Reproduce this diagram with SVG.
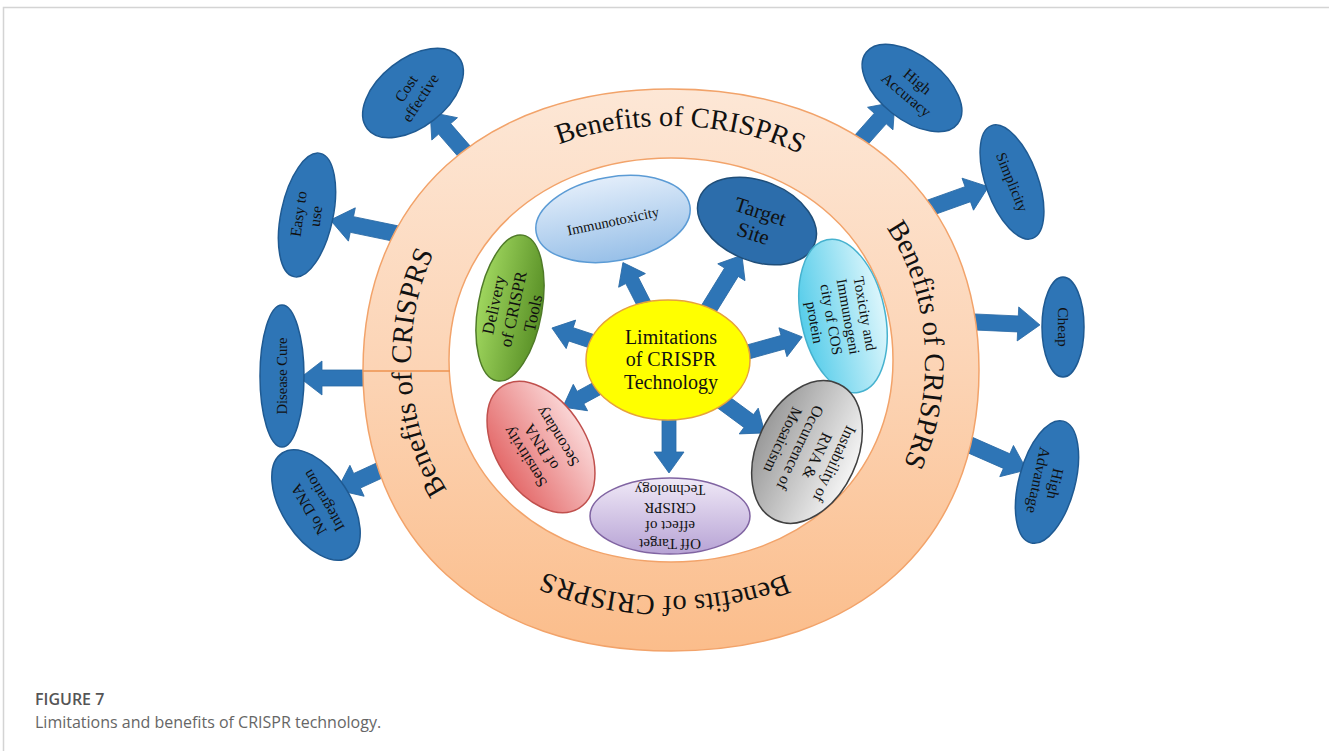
<svg xmlns="http://www.w3.org/2000/svg" width="1329" height="751" viewBox="0 0 1329 751">
<style>
.t{font-family:"Liberation Serif","Times New Roman",serif;fill:#111;text-anchor:middle}
.ring{font-family:"Liberation Serif","Times New Roman",serif;font-size:28.5px;fill:#111;text-anchor:middle}
.bn{fill:#2e75b6;stroke:#1f5a92;stroke-width:1.5}
.arr{fill:#2e75b6;stroke:#2a6aa5;stroke-width:0.8}
.cap{font-family:"Open Sans","Noto Sans","Liberation Sans",sans-serif;font-size:16px}
</style>
<defs>
<linearGradient id="gRing" x1="0" y1="0" x2="0" y2="1"><stop offset="0" stop-color="#fde7d6"/><stop offset="0.5" stop-color="#fcd4b5"/><stop offset="1" stop-color="#fbbd8b"/></linearGradient>
<linearGradient id="gImm" x1="0" y1="0" x2="0" y2="1"><stop offset="0" stop-color="#e2edfa"/><stop offset="1" stop-color="#98c0e8"/></linearGradient>
<linearGradient id="gTox" x1="0" y1="0" x2="0" y2="1"><stop offset="0" stop-color="#dcf6fc"/><stop offset="1" stop-color="#57cdea"/></linearGradient>
<linearGradient id="gDel" x1="0" y1="0" x2="0" y2="1"><stop offset="0" stop-color="#9fd65e"/><stop offset="1" stop-color="#5a9127"/></linearGradient>
<linearGradient id="gSen" x1="0" y1="0" x2="0" y2="1"><stop offset="0" stop-color="#fad6d6"/><stop offset="1" stop-color="#e46a6a"/></linearGradient>
<linearGradient id="gOff" x1="0" y1="0" x2="0" y2="1"><stop offset="0" stop-color="#f0e9f7"/><stop offset="1" stop-color="#b7a3d5"/></linearGradient>
<linearGradient id="gIns" x1="0" y1="0" x2="0" y2="1"><stop offset="0" stop-color="#f4f4f4"/><stop offset="1" stop-color="#9a9a9a"/></linearGradient>
<path id="pTop" d="M411,362 C411,220.4 513.8,126 668,126 C822.2,126 925,220.4 925,362"/>
<path id="pRight" d="M668,126 C822.2,126 925,220.4 925,362 C925,501.6 822.2,596 668,596"/>
<path id="pBottom" d="M925,360 C925,501.6 822.2,596 668,596 C513.8,596 411,501.6 411,360"/>
<path id="pLeft" d="M668,596 C513.8,596 411,501.6 411,360 C411,218.4 513.8,124 668,124"/>
</defs>
<rect width="1329" height="751" fill="#fff"/>
<path d="M3.5,751 V7.5 H1329" fill="none" stroke="#d4d4d4" stroke-width="1.5"/>

<g id="connectors">
<path class="arr" transform="translate(463,150) rotate(-131)" d="M-12,-8H28V-17L50,0L28,17V8H-12Z"/>
<path class="arr" transform="translate(393,233) rotate(-168.3)" d="M-12,-8H42V-17L64,0L42,17V8H-12Z"/>
<path class="arr" transform="translate(363,378) rotate(180)" d="M-12,-8H41V-17L63,0L41,17V8H-12Z"/>
<path class="arr" transform="translate(387,467) rotate(155.3)" d="M-12,-8H33V-17L55,0L33,17V8H-12Z"/>
<path class="arr" transform="translate(863,138) rotate(-48.4)" d="M-12,-8H26V-17L48,0L26,17V8H-12Z"/>
<path class="arr" transform="translate(932,207) rotate(-19.7)" d="M-12,-8H38V-17L60,0L38,17V8H-12Z"/>
<path class="arr" transform="translate(975,322) rotate(2.6)" d="M-12,-8H43V-17L65,0L43,17V8H-12Z"/>
<path class="arr" transform="translate(970,445) rotate(23.7)" d="M-12,-8H40V-17L62,0L40,17V8H-12Z"/>
<path class="arr" transform="translate(642,300) rotate(-117)" d="M-10,-7H22V-15L42,0L22,15V7H-10Z"/>
<path class="arr" transform="translate(713,302) rotate(-58.3)" d="M-10,-8H35V-16L55,0L35,16V8H-10Z"/>
<path class="arr" transform="translate(588,340) rotate(-161.6)" d="M-10,-7H18V-15L38,0L18,15V7H-10Z"/>
<path class="arr" transform="translate(755,350) rotate(-15.5)" d="M-10,-7H29V-15L49,0L29,15V7H-10Z"/>
<path class="arr" transform="translate(598,388) rotate(151.5)" d="M-10,-7H20V-15L40,0L20,15V7H-10Z"/>
<path class="arr" transform="translate(669,425) rotate(90)" d="M-10,-7H27V-15L48,0L27,15V7H-10Z"/>
<path class="arr" transform="translate(727,405) rotate(36.4)" d="M-10,-8H27V-16L47,0L27,16V8H-10Z"/>
</g>

<g id="ring">
<path fill="url(#gRing)" fill-rule="evenodd" stroke="#f2a36a" stroke-width="1.5" d="M363,370 C363,198.6 483,89 671,89 C859,89 979,198.6 979,370 C979,541.4 859,651 671,651 C483,651 363,541.4 363,370 Z M449,360 C449,242.8 542.2,158 671,158 C799.8,158 893,242.8 893,360 C893,477.2 799.8,562 671,562 C542.2,562 449,477.2 449,360 Z"/>
<line x1="363" y1="371" x2="450" y2="371" stroke="#ee9350" stroke-width="1.5"/>
<text class="ring"><textPath href="#pTop" startOffset="51.6%">Benefits of CRISPRS</textPath></text>
<text class="ring"><textPath href="#pRight" startOffset="47.8%">Benefits of CRISPRS</textPath></text>
<text class="ring"><textPath href="#pBottom" startOffset="50.4%">Benefits of CRISPRS</textPath></text>
<text class="ring"><textPath href="#pLeft" startOffset="48.3%">Benefits of CRISPRS</textPath></text>
</g>

<g id="n-cost">
<ellipse class="bn" transform="translate(413,93) rotate(-38)" rx="58" ry="34"/>
<g transform="translate(413,93) rotate(-57)"><text class="t" font-size="15.5"><tspan x="0" y="-3">Cost</tspan><tspan x="0" y="14">effective</tspan></text></g>
</g>
<g id="n-easy">
<ellipse class="bn" transform="translate(307,215) rotate(-78)" rx="63" ry="26"/>
<g transform="translate(307,215) rotate(-82)"><text class="t" font-size="15.5"><tspan x="0" y="-3.3">Easy to</tspan><tspan x="0" y="14">use</tspan></text></g>
</g>
<g id="n-disease">
<ellipse class="bn" transform="translate(282,376) rotate(-90)" rx="71" ry="22"/>
<g transform="translate(282,376) rotate(-90)"><text class="t" font-size="14.5" y="5">Disease Cure</text></g>
</g>
<g id="n-nodna">
<ellipse class="bn" transform="translate(316,505) rotate(57)" rx="62" ry="34"/>
<g transform="translate(316,505) rotate(-120)"><text class="t" font-size="15.5"><tspan x="0" y="-3.3">No DNA</tspan><tspan x="0" y="14">Integration</tspan></text></g>
</g>
<g id="n-acc">
<ellipse class="bn" transform="translate(912,88) rotate(38)" rx="58" ry="32"/>
<g transform="translate(912,88) rotate(40)"><text class="t" font-size="15.5"><tspan x="0" y="-3.3">High</tspan><tspan x="0" y="14">Accuracy</tspan></text></g>
</g>
<g id="n-simp">
<ellipse class="bn" transform="translate(1012,182) rotate(70)" rx="60" ry="26"/>
<g transform="translate(1012,182) rotate(68)"><text class="t" font-size="15" y="5">Simplicity</text></g>
</g>
<g id="n-cheap">
<ellipse class="bn" transform="translate(1063,327) rotate(90)" rx="50" ry="21"/>
<g transform="translate(1063,327) rotate(90)"><text class="t" font-size="15.5" y="5">Cheap</text></g>
</g>
<g id="n-adv">
<ellipse class="bn" transform="translate(1047,482) rotate(105)" rx="63" ry="28"/>
<g transform="translate(1047,482) rotate(102)"><text class="t" font-size="15.5"><tspan x="0" y="-3.3">High</tspan><tspan x="0" y="14">Advantage</tspan></text></g>
</g>

<g id="n-immuno">
<ellipse transform="translate(613,219) rotate(-10)" rx="78" ry="42" fill="url(#gImm)" stroke="#5b9bd5" stroke-width="1.5"/>
<g transform="translate(613,221) rotate(-12)"><text class="t" font-size="14.5" y="5">Immunotoxicity</text></g>
</g>
<g id="n-target">
<ellipse transform="translate(757,221) rotate(22)" rx="62" ry="40" fill="#2c6dab" stroke="#1f4e79" stroke-width="1.5"/>
<g transform="translate(757,222) rotate(18)"><text class="t" font-size="21"><tspan x="0" y="-4">Target</tspan><tspan x="0" y="19">Site</tspan></text></g>
</g>
<g id="n-tox">
<ellipse transform="translate(843,316) rotate(78)" rx="78" ry="42" fill="url(#gTox)" stroke="#46b2cf" stroke-width="1.5"/>
<g transform="translate(840,318) rotate(80)"><text class="t" font-size="15"><tspan x="0" y="-20.3">Toxicity and</tspan><tspan x="0" y="-3.3">Immunogeni</tspan><tspan x="0" y="13.7">city of COS</tspan><tspan x="0" y="30.7">protein</tspan></text></g>
</g>
<g id="n-delivery">
<ellipse transform="translate(510,308) rotate(-80)" rx="74" ry="32" fill="url(#gDel)" stroke="#4f7a28" stroke-width="1.5"/>
<g transform="translate(513,309) rotate(-78)"><text class="t" font-size="17"><tspan x="0" y="-14">Delivery</tspan><tspan x="0" y="6">of CRISPR</tspan><tspan x="0" y="26">Tools</tspan></text></g>
</g>
<g id="n-sens">
<ellipse transform="translate(541,447) rotate(58)" rx="72" ry="45" fill="url(#gSen)" stroke="#c0504d" stroke-width="1.5"/>
<g transform="translate(541,447) rotate(-122)"><text class="t" font-size="16"><tspan x="0" y="-13.4">Sensitivity</tspan><tspan x="0" y="5.6">of RNA</tspan><tspan x="0" y="24.6">Secondary</tspan></text></g>
</g>
<g id="n-off">
<ellipse cx="670" cy="516" rx="80" ry="38" fill="url(#gOff)" stroke="#8064a2" stroke-width="1.5"/>
<g transform="translate(670,517) rotate(180)"><text class="t" font-size="15"><tspan x="0" y="-21.8">Off Target</tspan><tspan x="0" y="-3.8">effect of</tspan><tspan x="0" y="14.2">CRISPR</tspan><tspan x="0" y="32.2">Technology</tspan></text></g>
</g>
<g id="n-inst">
<ellipse transform="translate(807,452) rotate(115)" rx="75" ry="50" fill="url(#gIns)" stroke="#404040" stroke-width="1.5"/>
<g transform="translate(809,452) rotate(115)"><text class="t" font-size="16"><tspan x="0" y="-22.9">Instability of</tspan><tspan x="0" y="-3.9">RNA &amp;</tspan><tspan x="0" y="15.1">Occurrence of</tspan><tspan x="0" y="34.1">Mosaicism</tspan></text></g>
</g>
<g id="n-center">
<ellipse cx="668" cy="360" rx="82" ry="60" fill="#ffff00" stroke="#e6a23c" stroke-width="1.5"/>
<text class="t" font-size="20"><tspan x="671" y="344">Limitations</tspan><tspan x="671" y="366">of CRISPR</tspan><tspan x="671" y="389">Technology</tspan></text>
</g>

<g id="caption">
<text class="cap" x="35" y="705" font-weight="600" fill="#555">FIGURE 7</text>
<text class="cap" x="35" y="728" fill="#666">Limitations and benefits of CRISPR technology.</text>
</g>
</svg>
